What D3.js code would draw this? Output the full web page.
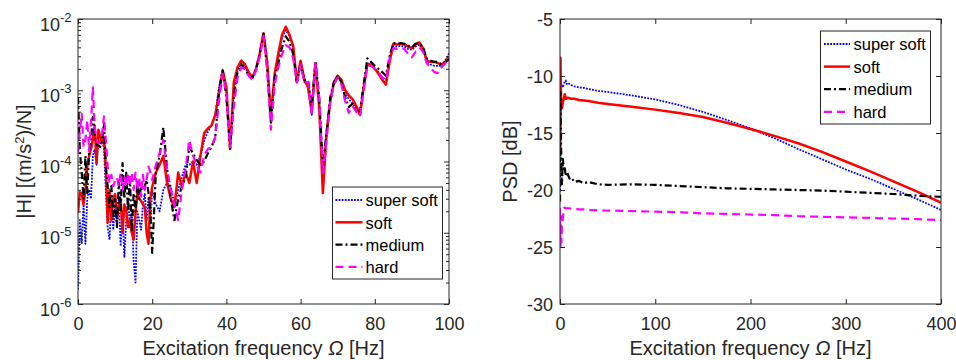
<!DOCTYPE html>
<html><head><meta charset="utf-8">
<script src="https://cdn.jsdelivr.net/npm/d3@7"></script>
<style>
body{margin:0;background:#fff;}
svg{display:block;font-family:"Liberation Sans",Arial,sans-serif;}
</style>
</head><body>
<svg id="chart" width="956" height="360"></svg>
<script>
// ---------------- DATA ----------------
const seriesNames = ["super soft", "soft", "medium", "hard"];

// Left panel: |H| versus excitation frequency (Hz)
const freqH = [
  0,0.5,1,1.5,2,2.5,3,3.5,4,4.5,
  5,5.5,6,6.5,7,7.5,8,8.5,9,9.5,
  10,10.5,11,11.5,12,12.5,13,13.5,14,14.5,
  15,15.5,16,16.5,17,17.5,18,18.5,19,19.5,
  20,
  21,22,23,24,25,26,27,28,29,30,
  31,32,33,34,35,36,37,38,39,40,
  41,42,43,44,45,46,47,48,49,50,
  51,52,53,54,55,56,57,58,59,60,
  61,62,63,64,65,66,67,68,69,70,
  71,72,73,74,75,76,77,78,79,80,
  81,82,83,84,85,86,87,88,89,90,
  91,92,93,94,95,96,97,98,99,100
];
const hSuperSoft = [
  1.6e-6,1.5e-5,7e-6,2.5e-5,7e-6,3e-5,4e-5,3e-5,1.2e-4,1.5e-4,
  9e-5,2e-4,1.8e-4,2.2e-4,1.5e-4,4e-5,1.2e-5,8e-6,3e-5,1.1e-5,
  2.5e-5,1.2e-5,3e-5,6.5e-6,2e-5,4.5e-6,1.5e-5,3e-5,1.2e-5,2e-5,
  4e-6,2e-6,2e-5,1.5e-5,1.1e-5,2.5e-5,3.5e-5,1.5e-5,3e-5,1.3e-5,
  4e-5,
  2.5e-5,2e-5,4e-5,5e-5,4.5e-5,2.5e-5,4e-5,6e-5,9e-5,9e-5,
  1e-4,9e-5,1.2e-4,2e-4,2.6e-4,3.3e-4,4.5e-4,1.1e-3,1.8e-3,1e-3,
  1.6e-4,1e-3,1.9e-3,2.4e-3,2.1e-3,1.7e-3,1.5e-3,2e-3,3.2e-3,6.2e-3,
  2.3e-3,4e-4,1.6e-3,3e-3,5.5e-3,7e-3,5.8e-3,4e-3,1.3e-3,2.5e-3,
  1.3e-3,1.3e-3,4.5e-4,2.4e-3,7e-4,8e-5,2.4e-4,7.5e-4,1.3e-3,1.6e-3,
  1.3e-3,9e-4,7.5e-4,6.5e-4,5.5e-4,4.5e-4,1.1e-3,2.4e-3,2.3e-3,2e-3,
  1.8e-3,1.5e-3,1.4e-3,2.8e-3,4.2e-3,4.1e-3,4.2e-3,4.1e-3,3.8e-3,3.7e-3,
  4.1e-3,4.4e-3,3.7e-3,2.6e-3,2.3e-3,2.2e-3,2.2e-3,2.2e-3,2.6e-3,3.3e-3
];
const hSoft = [
  1.9e-5,3.7e-5,3.5e-5,2.5e-5,4e-5,8.5e-5,1.2e-4,1.5e-4,2e-4,3.2e-4,
  9.5e-5,2.8e-4,2.2e-4,1.8e-4,2.2e-4,8.5e-5,1.4e-5,4e-5,1.5e-5,3e-5,
  3.5e-5,1.7e-5,2.3e-5,3e-5,1e-5,2.5e-5,2.1e-5,1.2e-5,1.5e-5,1e-5,
  8e-6,1.9e-5,3.6e-5,3e-5,2.8e-5,2.5e-5,2.3e-5,1e-5,7e-6,3e-5,
  4.4e-5,
  7e-5,9e-5,1.2e-4,5e-5,3e-5,2.3e-5,7e-5,4.5e-5,7e-5,5e-5,
  1e-4,5e-5,1.2e-4,2.5e-4,2.9e-4,3.2e-4,4.5e-4,9e-4,1.9e-3,1.1e-3,
  1.5e-4,1.3e-3,2.1e-3,2.6e-3,2.3e-3,1.8e-3,1.5e-3,2e-3,3.3e-3,6.3e-3,
  2.5e-3,4.3e-4,1.7e-3,3.3e-3,6e-3,7.8e-3,6e-3,4.2e-3,1.3e-3,2.6e-3,
  1.4e-3,1.1e-3,5e-4,2.4e-3,6e-4,3.6e-5,2.5e-4,7e-4,1.3e-3,1.6e-3,
  1.4e-3,1e-3,8.5e-4,7.5e-4,6e-4,4.5e-4,1.1e-3,2.3e-3,2.3e-3,2e-3,
  1.7e-3,1.4e-3,1.2e-3,2.5e-3,4.5e-3,4.4e-3,4.5e-3,4.4e-3,4.1e-3,3.9e-3,
  4.4e-3,4.7e-3,3.9e-3,2.6e-3,2.5e-3,2.5e-3,2.4e-3,2.3e-3,2.5e-3,2.9e-3
];
const hMedium = [
  8e-4,1.4e-4,7e-5,3e-5,1.2e-4,3.6e-5,1.4e-4,2e-4,4.2e-4,2.5e-4,
  1.7e-4,1.7e-4,1.6e-4,2e-4,3.5e-4,8.5e-5,4.5e-5,2.3e-5,4.5e-5,1.7e-5,
  3e-5,1.2e-5,5e-5,2e-5,9.5e-5,3e-5,7e-5,2e-5,6e-5,1e-5,
  3.6e-5,2e-5,5e-5,3e-5,4.5e-5,4e-5,4.5e-5,5.5e-5,3.6e-5,2e-5,
  5.2e-6,
  7e-5,1.2e-4,3e-4,8e-5,3e-5,1.5e-5,3e-5,4.5e-5,6e-5,1.6e-4,
  1.3e-4,1.05e-4,9e-5,1e-4,1.3e-4,1.6e-4,2.2e-4,1e-3,1.9e-3,8e-4,
  1.5e-4,8e-4,1.8e-3,2.3e-3,2e-3,1.6e-3,1.5e-3,2e-3,3.2e-3,6.2e-3,
  2e-3,3.5e-4,1.5e-3,2.4e-3,4e-3,5.7e-3,4.8e-3,3.2e-3,1.3e-3,2.4e-3,
  1.4e-3,1.4e-3,6e-4,2.5e-3,8e-4,8.5e-5,2.5e-4,8e-4,1.3e-3,1.6e-3,
  1.3e-3,8e-4,5.8e-4,6.5e-4,5.5e-4,5e-4,1.2e-3,2.8e-3,2.5e-3,2.2e-3,
  2e-3,1.8e-3,1.6e-3,3e-3,4.6e-3,4.5e-3,4.6e-3,4.5e-3,4.2e-3,4e-3,
  4.5e-3,4.6e-3,4e-3,2.8e-3,2.6e-3,2.5e-3,2.5e-3,2.3e-3,2.5e-3,2.7e-3
];
const hHard = [
  1.3e-4,2.7e-4,4.7e-4,1.6e-4,2e-4,3.8e-4,1.4e-4,3.5e-4,1.1e-3,3e-4,
  2e-4,1.8e-4,2e-4,2.5e-4,4.3e-4,2e-4,8.5e-5,5e-5,6.5e-5,4.5e-5,
  5.5e-5,6e-5,4.5e-5,7e-5,4e-5,6e-5,4.5e-5,7e-5,4.5e-5,7e-5,
  4e-5,7e-5,4e-5,6e-5,3.2e-5,6.5e-5,4e-5,5.5e-5,8.5e-5,7e-5,
  5.5e-5,
  9e-5,1.3e-4,2e-4,8e-5,4e-5,2.5e-5,1.5e-5,4e-5,8e-5,2e-4,
  1.2e-4,9e-5,7e-5,1.2e-4,1.5e-4,1.6e-4,2.2e-4,7e-4,1.7e-3,9e-4,
  1.6e-4,6e-4,1.5e-3,2.1e-3,2e-3,1.6e-3,1.4e-3,1.9e-3,3e-3,5.8e-3,
  2e-3,2.8e-4,1.2e-3,2.1e-3,3.2e-3,4.3e-3,4e-3,2.8e-3,1.3e-3,2.3e-3,
  1.3e-3,1.3e-3,4.6e-4,2.4e-3,8e-4,6.9e-5,2e-4,7e-4,1.2e-3,1.5e-3,
  1.2e-3,7e-4,4.8e-4,6e-4,5e-4,4.3e-4,1e-3,2.2e-3,2.2e-3,2e-3,
  1.8e-3,1.5e-3,1.4e-3,2.8e-3,3.9e-3,3.8e-3,3.9e-3,3.8e-3,3.2e-3,2.9e-3,
  3.5e-3,4e-3,3.5e-3,2.4e-3,2.1e-3,1.8e-3,1.75e-3,2.1e-3,2.4e-3,2.8e-3
];

// Right panel: PSD (dB) versus excitation frequency (Hz)
const freqPSD = [0,0.5,1,1.5,2,3,4,5,6,7,8,10,12,15,20,25,30,40,50,75,100,125,150,175,200,225,250,275,300,325,350,375,400];
const psdSuperSoft = [-20,-12,-11.2,-10.9,-10.8,-11,-10.7,-10.5,-10.4,-10.7,-10.6,-10.7,-10.8,-10.9,-11.0,-11.05,-11.15,-11.3,-11.4,-11.7,-12.05,-12.55,-13.15,-13.85,-14.6,-15.45,-16.4,-17.3,-18.2,-19.0,-19.9,-20.8,-21.75];
const psdSoft = [-17,-8.4,-11.5,-12.5,-12.8,-12.3,-12.0,-11.6,-12.0,-12.0,-11.9,-11.95,-12.0,-12.0,-12.1,-12.15,-12.2,-12.35,-12.45,-12.7,-12.95,-13.25,-13.6,-14.1,-14.65,-15.25,-15.9,-16.65,-17.5,-18.35,-19.25,-20.15,-21.1];
const psdMedium = [-21,-11.4,-15,-18.5,-19.5,-17.3,-18.2,-18.0,-18.8,-18.4,-18.6,-19.0,-18.9,-19.3,-19.2,-19.4,-19.3,-19.5,-19.55,-19.5,-19.55,-19.65,-19.75,-19.85,-19.9,-19.95,-20.0,-20.05,-20.15,-20.25,-20.35,-20.5,-20.6];
const psdHard = [-21.6,-25,-22.3,-24.6,-23,-22.5,-21.6,-21.55,-21.6,-21.6,-21.6,-21.6,-21.65,-21.65,-21.7,-21.7,-21.75,-21.8,-21.8,-21.85,-21.9,-21.95,-22.05,-22.1,-22.15,-22.2,-22.3,-22.35,-22.4,-22.45,-22.5,-22.55,-22.65];

// Tick values
const xTicksH = [0,20,40,60,80,100];
const yTicksH = [1e-6,1e-5,1e-4,1e-3,1e-2];
const xTicksPSD = [0,100,200,300,400];
const yTicksPSD = [-30,-25,-20,-15,-10,-5];

// ---------------- STYLE ----------------
const frameColor = "#262626";
const styles = [
  {color:"#0000ff", width:1.8, dash:"1.8,1.3"},
  {color:"#ff0000", width:2.5, dash:null},
  {color:"#000000", width:2.2, dash:"7,3,2,3"},
  {color:"#ff00ff", width:2.2, dash:"8,5"}
];
const tickFont = 18, labelFont = 20, legendFont = 16.5;

const svg = d3.select("#chart");

function drawPanel(cfg){
  const g = svg.append("g").attr("transform", `translate(${cfg.left},${cfg.top})`);
  const x = d3.scaleLinear().domain(cfg.xDomain).range([0, cfg.w]);
  const y = cfg.yScale.range([cfg.h, 0]);
  const clipId = cfg.id + "-clip";
  g.append("clipPath").attr("id", clipId)
    .append("rect").attr("x",0).attr("y",0).attr("width", cfg.w).attr("height", cfg.h);

  const line = d3.line().x(d => x(d[0])).y(d => y(d[1]));
  cfg.series.forEach((vals, i) => {
    const data = cfg.freq.map((f, j) => [f, vals[j]]);
    g.append("path").datum(data)
      .attr("clip-path", `url(#${clipId})`)
      .attr("fill", "none")
      .attr("stroke", styles[i].color)
      .attr("stroke-width", styles[i].width)
      .attr("stroke-dasharray", styles[i].dash)
      .attr("stroke-linejoin", "round")
      .attr("d", line);
  });

  g.append("g").attr("transform", `translate(0,${cfg.h})`)
    .call(d3.axisBottom(x).tickValues(cfg.xTicks).tickSize(-5).tickSizeOuter(0)
      .tickPadding(13.2).tickFormat(d => String(d)));
  g.append("g")
    .call(d3.axisTop(x).tickValues(cfg.xTicks).tickSize(-5).tickSizeOuter(0).tickFormat(""));

  if (cfg.log) {
    const minor = y.ticks().filter(v => !cfg.yTicks.some(t => Math.abs(t - v) / t < 1e-9));
    g.append("g").call(d3.axisLeft(y).tickValues(minor).tickSize(-3).tickSizeOuter(0).tickFormat(""));
    g.append("g").attr("transform", `translate(${cfg.w},0)`)
      .call(d3.axisRight(y).tickValues(minor).tickSize(-3).tickSizeOuter(0).tickFormat(""));
    const ly = g.append("g").call(d3.axisLeft(y).tickValues(cfg.yTicks).tickSize(-5).tickSizeOuter(0).tickFormat(""));
    ly.selectAll(".tick").append("text")
      .attr("x", -6.5).attr("y", 11).attr("text-anchor", "end")
      .each(function(d){
        const t = d3.select(this);
        t.append("tspan").text("10");
        t.append("tspan").attr("dy", -8.5).attr("font-size", 13).text(String(Math.round(Math.log10(d))));
      });
  } else {
    const ly = g.append("g").call(d3.axisLeft(y).tickValues(cfg.yTicks).tickSize(-5).tickSizeOuter(0)
      .tickPadding(7).tickFormat(d => String(d)));
    ly.selectAll(".tick text").attr("dy", "0.36em");
  }
  g.append("g").attr("transform", `translate(${cfg.w},0)`)
    .call(d3.axisRight(y).tickValues(cfg.yTicks).tickSize(-5).tickSizeOuter(0).tickFormat(""));

  g.selectAll(".domain").remove();
  g.selectAll(".tick line").attr("stroke", frameColor);
  g.selectAll(".tick text").attr("fill", frameColor).attr("font-size", tickFont)
    .attr("font-family", "'Liberation Sans', Arial, sans-serif");

  g.append("rect").attr("x", 0).attr("y", 0).attr("width", cfg.w).attr("height", cfg.h)
    .attr("fill", "none").attr("stroke", frameColor).attr("stroke-width", 1);

  const xl = svg.append("text")
    .attr("x", cfg.left + cfg.w / 2).attr("y", 355)
    .attr("text-anchor", "middle").attr("font-size", labelFont).attr("fill", frameColor);
  xl.append("tspan").text("Excitation frequency ");
  xl.append("tspan").attr("font-style", "italic").text("Ω");
  xl.append("tspan").text(" [Hz]");

  const yl = svg.append("text")
    .attr("transform", `translate(${cfg.yLabelX},${cfg.top + cfg.h / 2}) rotate(-90)`)
    .attr("text-anchor", "middle").attr("font-size", labelFont).attr("fill", frameColor);
  cfg.yLabel(yl);

  const L = cfg.legend;
  const lg = svg.append("g").attr("transform", `translate(${L.x},${L.y})`);
  lg.append("rect").attr("width", L.w).attr("height", L.h)
    .attr("fill", "#fff").attr("stroke", frameColor).attr("stroke-width", 1);
  seriesNames.forEach((name, i) => {
    const cy = L.first + i * L.step;
    lg.append("line").attr("x1", L.lx1).attr("x2", L.lx2).attr("y1", cy).attr("y2", cy)
      .attr("stroke", styles[i].color).attr("stroke-width", styles[i].width)
      .attr("stroke-dasharray", styles[i].dash);
    lg.append("text").attr("x", L.tx).attr("y", cy).attr("dy", "0.38em")
      .attr("font-size", legendFont).attr("fill", "#000").text(name);
  });
}

drawPanel({
  id: "left", left: 78, top: 19, w: 371, h: 285,
  xDomain: [0, 100], yScale: d3.scaleLog().domain([1e-6, 1e-2]), log: true,
  freq: freqH, series: [hSuperSoft, hSoft, hMedium, hHard],
  xTicks: xTicksH, yTicks: yTicksH,
  yLabelX: 31,
  yLabel: t => {
    t.append("tspan").text("|H| [(m/s");
    t.append("tspan").attr("dy", -7).attr("font-size", 13).text("2");
    t.append("tspan").attr("dy", 7).text(")/N]");
  },
  legend: {x: 332.5, y: 187, w: 110, h: 92, first: 13, step: 22.3, lx1: 3, lx2: 30, tx: 33}
});

drawPanel({
  id: "right", left: 560, top: 19, w: 381, h: 285,
  xDomain: [0, 400], yScale: d3.scaleLinear().domain([-30, -5]), log: false,
  freq: freqPSD, series: [psdSuperSoft, psdSoft, psdMedium, psdHard],
  xTicks: xTicksPSD, yTicks: yTicksPSD,
  yLabelX: 517,
  yLabel: t => { t.text("PSD [dB]"); },
  legend: {x: 820.5, y: 31, w: 110, h: 93, first: 13, step: 22.6, lx1: 3.5, lx2: 29.5, tx: 33}
});
</script>
</body></html>
